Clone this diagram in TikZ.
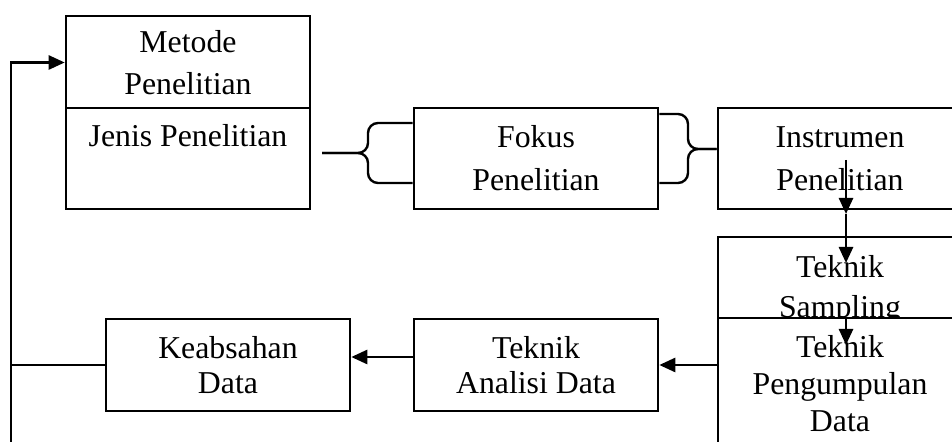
\documentclass[tikz,border=0pt]{standalone}
\usepackage{fontspec}
\setmainfont{Liberation Serif}
\usetikzlibrary{arrows.meta}

\tikzset{
  box/.style={draw, fill=white, line width=1.3pt, minimum width=122pt, inner sep=0pt,
    align=center, font=\fontsize{15.9}{21.5}\selectfont},
  arr/.style={line width=1.3pt, -{Triangle[length=8pt,width=7pt]}},
  link/.style={line width=1.3pt},
  brace/.style={line width=1.2pt, rounded corners=5pt}
}

\begin{document}
\begin{tikzpicture}[x=0.5pt,y=-0.5pt]
      \clip (0,0) rectangle (952,442);
      % Nodes
      % upper row
      \node[box, minimum height=46.5pt, font=\fontsize{15.9}{21}\selectfont] (metode) at (188,62.5) {Metode\\Penelitian};
      \node[box, minimum height=50.5pt, text height=10.5pt, text depth=22pt] (jenis) at (188,158.5) {Jenis Penelitian};
      \node[box, minimum height=50.5pt] (fokus) at (536,158.5) {Fokus\\Penelitian};
      \node[box, minimum height=50.5pt] (instrumen) at (840,158.5) {Instrumen\\Penelitian};
      % right column, the lower box covers the one above
      \node[box, minimum height=53pt, font=\fontsize{15.9}{20}\selectfont] (sampling) at (840,290) {Teknik\\Sampling};
      \node[box, minimum height=66pt, font=\fontsize{15.9}{18.5}\selectfont] (pengumpulan) at (840,384) {Teknik\\Pengumpulan\\Data};
      % lower row
      \node[box, minimum height=46pt, font=\fontsize{15.9}{17.5}\selectfont] (analisi) at (536,365) {Teknik\\Analisi Data};
      \node[box, minimum height=46pt, font=\fontsize{15.9}{17.5}\selectfont] (keabsahan) at (228,365) {Keabsahan\\Data};

      % braces between the upper boxes
      \draw[brace] (fokus.west |- 0,123) -- (368,123) -- (368,153) -- (322,153);
      \draw[brace] (fokus.west |- 0,183) -- (368,183) -- (368,153) -- (322,153);
      \draw[brace] (fokus.east |- 0,114) -- (688,114) -- (688,149) -- (instrumen.west |- 0,149);
      \draw[brace] (fokus.east |- 0,183) -- (688,183) -- (688,149) -- (instrumen.west |- 0,149);

      % down the right column
      \coordinate (d1) at (846,160);
      \coordinate (d2) at (846,214);
      \coordinate (d3) at (846,263);
      \coordinate (d4) at (846,345);
      \draw[arr] (d1) -- (d2);
      \draw[arr] (d2) -- (d3);
      \draw[arr] (pengumpulan.north -| d1) -- (d4);

      % back along the lower row
      \draw[arr] (pengumpulan.west |- analisi.east) -- (analisi.east);
      \draw[arr] ([yshift=4pt]analisi.west) -- ([yshift=4pt]keabsahan.east);

      % loop back to the start
      \coordinate (loop) at (11,450);
      \draw[link] (keabsahan.west) -- (keabsahan.west -| loop);
      \draw[arr] (loop) |- (metode.west);

    \end{tikzpicture}
\end{document}
